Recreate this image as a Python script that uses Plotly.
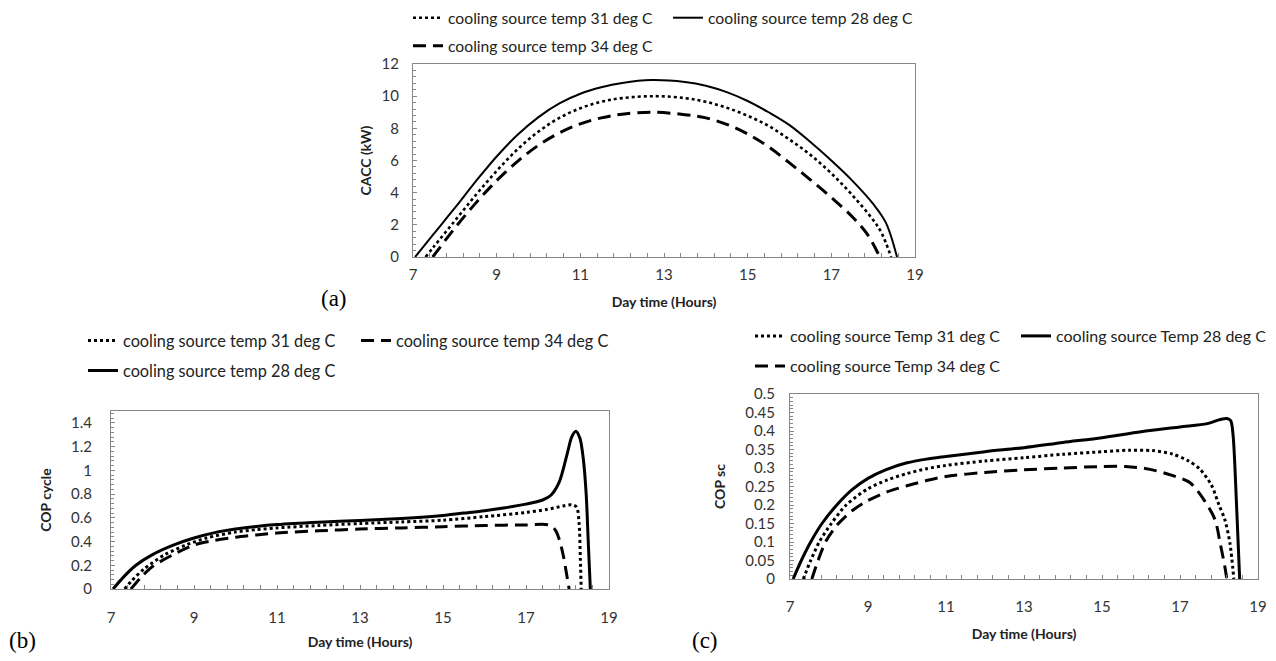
import plotly.graph_objects as go

# target picture size and the page's default body margin
W, H = 1276, 661
OFF = 8
FW, FH = W - 2 * OFF, H - 2 * OFF

# ---------------- data: (a) CACC (kW) ----------------
a_x28 = [7.05, 7.5, 8.0, 8.5, 9.0, 9.5, 10.0, 10.5, 11.0, 11.5, 12.0, 12.7, 13.5, 14.0, 14.5, 15.0, 15.5, 16.0, 16.5, 17.0, 17.5, 18.0, 18.3, 18.57]
a_y28 = [0, 1.45, 3.05, 4.7, 6.25, 7.6, 8.7, 9.55, 10.15, 10.55, 10.82, 11.0, 10.88, 10.65, 10.25, 9.7, 9.0, 8.2, 7.15, 6.0, 4.75, 3.3, 2.15, 0]
a_x31 = [7.3, 7.5, 8.0, 8.5, 9.0, 9.5, 10.0, 10.5, 11.0, 11.5, 12.0, 12.8, 13.5, 14.0, 14.5, 15.0, 15.5, 16.0, 16.5, 17.0, 17.5, 18.0, 18.2, 18.43]
a_y31 = [0, 0.65, 2.25, 3.85, 5.35, 6.7, 7.8, 8.65, 9.25, 9.65, 9.88, 10.0, 9.88, 9.65, 9.28, 8.78, 8.15, 7.3, 6.35, 5.2, 3.85, 2.3, 1.5, 0]
a_x34 = [7.47, 8.0, 8.5, 9.0, 9.5, 10.0, 10.5, 11.0, 11.5, 12.0, 12.7, 13.5, 14.0, 14.5, 15.0, 15.5, 16.0, 16.5, 17.0, 17.5, 17.85, 18.16]
a_y34 = [0, 1.8, 3.35, 4.75, 5.95, 6.95, 7.72, 8.28, 8.65, 8.88, 9.0, 8.85, 8.65, 8.25, 7.65, 6.85, 5.85, 4.8, 3.7, 2.5, 1.45, 0]

# ---------------- data: (b) COP cycle ----------------
b_x28 = [7.05, 7.3, 7.6, 8.0, 8.5, 9.0, 9.5, 10.0, 10.5, 11.0, 12.0, 13.0, 14.0, 15.0, 15.5, 16.0, 16.5, 17.0, 17.4, 17.6, 17.8, 18.0, 18.1, 18.2, 18.3, 18.38, 18.45, 18.5, 18.55]
b_y28 = [0, 0.1, 0.2, 0.29, 0.37, 0.43, 0.475, 0.505, 0.527, 0.543, 0.563, 0.578, 0.595, 0.62, 0.64, 0.66, 0.685, 0.715, 0.75, 0.79, 0.9, 1.15, 1.28, 1.33, 1.27, 1.1, 0.8, 0.4, 0]
b_x31 = [7.33, 7.5, 7.8, 8.3, 8.8, 9.3, 10.0, 10.5, 11.0, 12.0, 13.0, 14.0, 15.0, 16.0, 17.0, 17.5, 17.9, 18.1, 18.22, 18.28, 18.31, 18.33]
b_y31 = [0, 0.07, 0.17, 0.29, 0.37, 0.43, 0.48, 0.5, 0.515, 0.535, 0.552, 0.565, 0.58, 0.61, 0.645, 0.67, 0.7, 0.71, 0.69, 0.55, 0.25, 0]
b_x34 = [7.48, 7.7, 8.0, 8.5, 9.0, 9.5, 10.0, 10.5, 11.0, 12.0, 13.0, 14.0, 15.0, 16.0, 17.0, 17.55, 17.7, 17.8, 17.9, 18.0, 18.04]
b_y34 = [0, 0.09, 0.19, 0.29, 0.37, 0.41, 0.437, 0.456, 0.472, 0.49, 0.505, 0.515, 0.525, 0.535, 0.54, 0.54, 0.5, 0.42, 0.28, 0.08, 0]

# ---------------- data: (c) COP sc ----------------
c_x28 = [7.08, 7.29, 7.53, 7.82, 8.2, 8.6, 9.0, 9.45, 10.0, 10.5, 11.0, 12.0, 13.0, 14.0, 15.0, 16.0, 17.0, 17.7, 18.0, 18.2, 18.3, 18.36, 18.45, 18.53]
c_y28 = [0, 0.05, 0.1, 0.15, 0.2, 0.242, 0.272, 0.295, 0.314, 0.324, 0.331, 0.344, 0.355, 0.369, 0.382, 0.398, 0.411, 0.42, 0.43, 0.434, 0.428, 0.39, 0.2, 0]
c_x31 = [7.34, 7.53, 7.75, 8.06, 8.44, 9.0, 9.5, 10.0, 10.5, 11.0, 12.0, 13.0, 14.0, 15.0, 15.7, 16.3, 16.8, 17.2, 17.5, 17.8, 18.0, 18.15, 18.28, 18.38]
c_y31 = [0, 0.05, 0.1, 0.15, 0.2, 0.244, 0.268, 0.285, 0.298, 0.307, 0.319, 0.328, 0.337, 0.344, 0.348, 0.347, 0.338, 0.32, 0.298, 0.255, 0.2, 0.16, 0.097, 0]
c_x34 = [7.56, 7.72, 7.91, 8.2, 8.6, 9.0, 9.5, 10.0, 10.5, 11.0, 12.0, 13.0, 14.0, 15.0, 15.6, 16.2, 16.8, 17.26, 17.64, 17.9, 18.03, 18.15, 18.2]
c_y34 = [0, 0.05, 0.1, 0.145, 0.185, 0.212, 0.236, 0.252, 0.266, 0.277, 0.288, 0.295, 0.3, 0.304, 0.304, 0.297, 0.28, 0.26, 0.21, 0.16, 0.097, 0.033, 0]

names_lower = ["cooling source temp 28 deg C", "cooling source temp 31 deg C", "cooling source temp 34 deg C"]
names_upper = ["cooling source Temp 28 deg C", "cooling source Temp 31 deg C", "cooling source Temp 34 deg C"]
x_ticks = [7, 9, 11, 13, 15, 17, 19]

FONT = "Lato"
GRAY = "#868686"


def px_x(p):
    return (p - OFF) / FW


def px_y(p):
    return 1 - (p - OFF) / FH


fig = go.Figure()

DASH = "13px,7px"


def add(x, y, name, style, xa, ya, leg, width, smooth):
    dash = {"solid": "solid", "dot": "dot", "dash": DASH}[style]
    fig.add_trace(go.Scatter(
        x=x, y=y, name=name, mode="lines",
        line=dict(color="black", width=width, dash=dash, shape="spline", smoothing=smooth),
        xaxis=xa, yaxis=ya, legend=leg, showlegend=True, hoverinfo="skip"))


# (a)
add(a_x31, a_y31, names_lower[1], "dot", "x", "y", "legend", 2.6, 1.0)
add(a_x28, a_y28, names_lower[0], "solid", "x", "y", "legend2", 2, 1.0)
add(a_x34, a_y34, names_lower[2], "dash", "x", "y", "legend3", 3, 1.0)
# (b)
add(b_x31, b_y31, names_lower[1], "dot", "x2", "y2", "legend4", 3, 0.8)
add(b_x34, b_y34, names_lower[2], "dash", "x2", "y2", "legend5", 3, 0.8)
add(b_x28, b_y28, names_lower[0], "solid", "x2", "y2", "legend6", 3, 0.8)
# (c)
add(c_x31, c_y31, names_upper[1], "dot", "x3", "y3", "legend7", 3, 0.8)
add(c_x28, c_y28, names_upper[0], "solid", "x3", "y3", "legend8", 3, 0.8)
add(c_x34, c_y34, names_upper[2], "dash", "x3", "y3", "legend9", 3, 0.8)

# legend placements: (text start px, row centre px, font size)
leg_pos = {
    "legend": (448, 18, 15.7), "legend2": (708, 18, 15.7), "legend3": (448, 46, 15.7),
    "legend4": (123, 341, 16.3), "legend5": (396, 341, 16.3), "legend6": (123, 371, 16.3),
    "legend7": (790, 336, 16), "legend8": (1056, 336, 16), "legend9": (790, 366, 16),
}
legends = {}
for k, (tx, ty, fs) in leg_pos.items():
    legends[k] = dict(x=px_x(tx - 40), y=px_y(ty), xanchor="left", yanchor="middle",
                      bgcolor="rgba(0,0,0,0)", borderwidth=0,
                      font=dict(family=FONT, size=fs, color="#222"),
                      itemclick=False, itemdoubleclick=False)


def xaxis(dom, anchor, standoff, title_standoff):
    return dict(domain=dom, anchor=anchor, range=[7, 19], tickvals=x_ticks,
                showline=True, linecolor=GRAY, linewidth=1, mirror=True,
                ticks="inside", ticklen=4, tickcolor=GRAY,
                minor=dict(dtick=0.4, tick0=7, ticks="inside", ticklen=4, tickcolor=GRAY),
                showgrid=False, zeroline=False, ticklabelstandoff=standoff,
                tickfont=dict(family=FONT, size=15, color="#333"),
                title=dict(text="Day time (Hours)", standoff=title_standoff,
                           font=dict(family=FONT, size=14, color="#222", weight="bold")))


def yaxis(dom, anchor, rng, dtick, mdtick, standoff, title, title_standoff):
    return dict(domain=dom, anchor=anchor, range=rng, dtick=dtick, tick0=0,
                showline=True, linecolor=GRAY, linewidth=1, mirror=True,
                ticks="inside", ticklen=4, tickcolor=GRAY,
                minor=dict(dtick=mdtick, tick0=0, ticks="inside", ticklen=3, tickcolor=GRAY),
                showgrid=False, zeroline=False, ticklabelstandoff=standoff,
                tickfont=dict(family=FONT, size=15, color="#333"),
                title=dict(text=title, standoff=title_standoff,
                           font=dict(family=FONT, size=14, color="#222", weight="bold")))


def panel_label(t, x, y):
    return dict(text=t, x=px_x(x), y=px_y(y), xref="paper", yref="paper", showarrow=False,
                xanchor="center", yanchor="middle",
                font=dict(family="Liberation Serif", size=23, color="black"))


layout = dict(
    width=FW, height=FH, margin=dict(l=0, r=0, t=0, b=0, autoexpand=False),
    paper_bgcolor="white", plot_bgcolor="white", showlegend=True,
    xaxis=xaxis([px_x(413), px_x(915)], "y", 4, 15),
    yaxis=yaxis([px_y(257), px_y(64)], "x", [0, 12], 2, 0.4, 10, "CACC (kW)", 6),
    xaxis2=xaxis([px_x(111), px_x(609)], "y2", 15, 12),
    yaxis2=yaxis([px_y(589), px_y(411)], "x2", [0, 1.5], 0.2, 0.04, 15, "COP cycle", 16),
    xaxis3=xaxis([px_x(790), px_x(1258)], "y3", 14, 15),
    yaxis3=yaxis([px_y(579), px_y(394)], "x3", [0, 0.5], 0.05, 0.01, 11, "COP sc", 16),
    annotations=[
        panel_label("(a)", 334, 298),
        panel_label("(b)", 22, 640),
        panel_label("(c)", 705, 640),
    ],
)
layout.update(legends)
fig.update_layout(**layout)

fig.write_html("out.html")
